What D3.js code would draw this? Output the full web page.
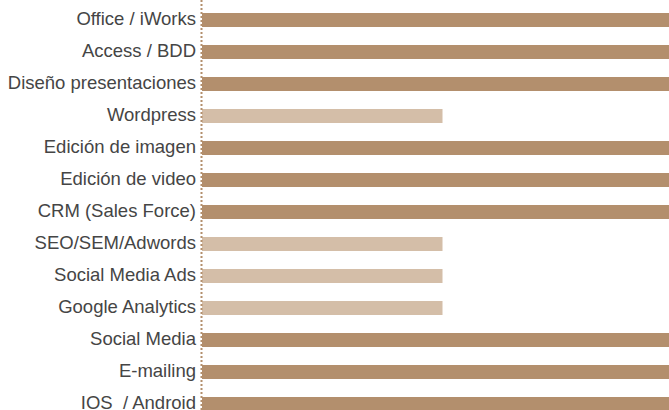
<!DOCTYPE html>
<html>
<head>
<meta charset="utf-8">
<script src="https://cdn.jsdelivr.net/npm/d3@7"></script>
<style>
  html, body { margin: 0; padding: 0; background: #fff; }
  svg { display: block; }
</style>
</head>
<body>
<div id="chart"></div>
<script>
// Skill levels (100 = full bar, 50 = half bar)
var skills = [
    "Office / iWorks", "Access / BDD", "Diseño presentaciones", "Wordpress",
    "Edición de imagen", "Edición de video", "CRM (Sales Force)", "SEO/SEM/Adwords",
    "Social Media Ads", "Google Analytics", "Social Media", "E-mailing", "IOS  / Android"
];
var levels = [100, 100, 100, 50, 100, 100, 100, 50, 50, 50, 100, 100, 100];

(function () {
    "use strict";

    var W = 669, H = 410;
    var left = 202, step = 32, barH = 14, top = 13;

    var svg = d3.select("#chart").append("svg")
        .attr("width", W)
        .attr("height", H);

    // full bar runs past the right edge of the frame
    var x = d3.scaleLinear().domain([0, 100]).range([left, 683]);
    var y = d3.scaleBand()
        .domain(skills)
        .range([top, top + step * (skills.length - 1) + barH])
        .paddingInner((step - barH) / step)
        .paddingOuter(0);

    // Bars
    svg.append("g").selectAll("rect")
        .data(skills)
        .enter().append("rect")
        .attr("x", x(0))
        .attr("y", function (d) { return y(d); })
        .attr("height", y.bandwidth())
        .attr("width", function (d, i) { return x(levels[i]) - x(0); })
        .attr("fill", function (d, i) { return levels[i] >= 100 ? "#b38f6d" : "#d4bea8"; });

    // Labels
    svg.append("g").selectAll("text")
        .data(skills)
        .enter().append("text")
        .attr("x", 196)
        .attr("y", function (d) { return y(d) + y.bandwidth() / 2; })
        .attr("dy", "0.27em")
        .attr("text-anchor", "end")
        .attr("fill", "#454545")
        .attr("font-family", "'Liberation Sans', Arial, Helvetica, sans-serif")
        .attr("font-size", "18.5px")
        .style("white-space", "pre")
        .text(function (d) { return d; });

    // Dotted baseline
    svg.append("line")
        .attr("x1", 201.5).attr("x2", 201.5)
        .attr("y1", 0).attr("y2", H)
        .attr("stroke", "#b38f6d")
        .attr("stroke-width", 2)
        .attr("stroke-dasharray", "2,2");
})();
</script>
</body>
</html>
